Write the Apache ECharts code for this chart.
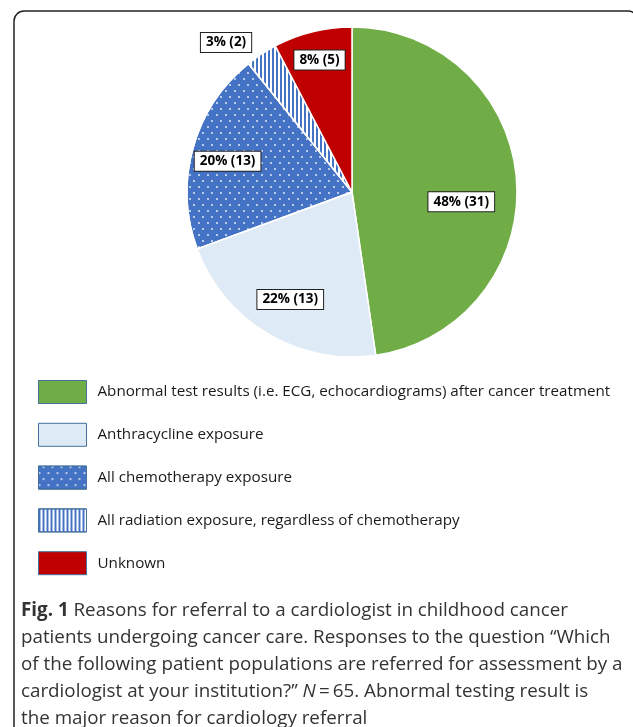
<!DOCTYPE html>
<html><head><meta charset="utf-8">
<script src="https://cdn.jsdelivr.net/npm/echarts@6/dist/echarts.min.js"></script>
<style>html,body{margin:0;padding:0;background:#fff}#c{width:633px;height:727px}</style>
</head><body><div id="c"></div>
<script>
const categories = [
  'Abnormal test results (i.e. ECG, echocardiograms) after cancer treatment',
  'Anthracycline exposure',
  'All chemotherapy exposure',
  'All radiation exposure, regardless of chemotherapy',
  'Unknown'
];
// share of the pie (%)
const shares = [47.7, 21.7, 19.8, 3.1, 7.7];
// printed label values
const pctLabels = ['48%', '22%', '20%', '3%', '8%'];
const countLabels = [31, 13, 13, 2, 5];
const captionLines = [
  'Reasons for referral to a cardiologist in childhood cancer',
  'patients undergoing cancer care. Responses to the question \u201cWhich',
  'of the following patient populations are referred for assessment by a',
  'cardiologist at your institution?\u201d ',
  'the major reason for cardiology referral'
];

const colors = ['#70AD47', '#DEEBF7', '#4472C4', '#FFFFFF', '#C00000'];
const decals = [
  null, null,
  {symbol: 'circle', symbolSize: 1, color: 'rgba(255,255,255,0.85)', dashArrayX: [[1.2, 6.8], [0, 4, 1.2, 2.8]], dashArrayY: [1.2, 3.8]},
  {symbol: 'rect', symbolSize: 1, color: '#4472C4', dashArrayX: [2, 2], dashArrayY: [1, 0]},
  null
];
const labelOffsets = [[24, 16], [-18, 34], [-42, -8], [-79, -78], [-12, -49]];

const data = categories.map((name, i) => {
  const d = {
    name, value: shares[i],
    itemStyle: {color: colors[i]},
    label: {offset: labelOffsets[i], formatter: pctLabels[i] + ' (' + countLabels[i] + ')'}
  };
  if (decals[i]) d.itemStyle.decal = decals[i];
  return d;
});

const capFont = {fontFamily: 'Open Sans', fontSize: 18.8, color: '#333', lineHeight: 27};
const chart = echarts.init(document.getElementById('c'), null, {renderer: 'canvas'});
chart.setOption({
  animation: false,
  backgroundColor: '#fff',
  title: {
    left: 16, top: 592,
    text: '{b|Fig. 1} ' + captionLines[0] + '\n' + captionLines[1] + '\n' + captionLines[2] + '\n' + captionLines[3] + '{i|N}\u2009=\u200965. Abnormal testing result is\n' + captionLines[4],
    textStyle: Object.assign({fontWeight: 'normal', rich: {
      b: Object.assign({fontWeight: 'bold'}, capFont),
      i: Object.assign({fontStyle: 'italic'}, capFont)
    }}, capFont)
  },
  legend: {
    orient: 'vertical', left: 38, top: 380, padding: 0,
    itemWidth: 48, itemHeight: 23, itemGap: 18.8, icon: 'rect',
    itemStyle: {borderColor: '#41719C', borderWidth: 1},
    textStyle: {fontFamily: 'Open Sans', fontSize: 15.2, color: '#1a1a1a', padding: [0, 0, 0, 6]},
    data: categories
  },
  series: [{
    type: 'pie',
    center: [352, 192], radius: 165,
    startAngle: 90, clockwise: true,
    avoidLabelOverlap: false,
    itemStyle: {borderColor: '#fff', borderWidth: 1.5},
    label: {
      show: true, position: 'inside',
      fontFamily: 'Open Sans', fontSize: 13.5, fontWeight: 'bold', color: '#000',
      backgroundColor: '#fff', borderColor: '#222', borderWidth: 1, padding: [3, 5, 2, 5]
    },
    labelLine: {show: false},
    emphasis: {disabled: true},
    data
  }],
  graphic: [{
    type: 'rect', silent: true,
    shape: {x: 14, y: 11, width: 624, height: 800, r: [10, 10, 0, 0]},
    style: {fill: 'none', stroke: '#222', lineWidth: 1.5}
  }]
});
</script></body></html>
